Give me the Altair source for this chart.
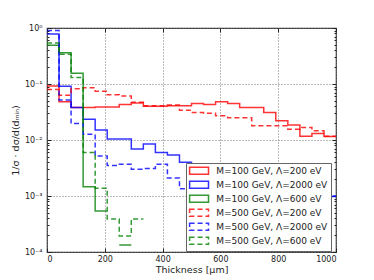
import altair as alt
import numpy as np
import pandas as pd

# ---- data ----
edges = list(np.linspace(0, 1000, 25))  # 24 bins of ~41.7 µm

series_names = [
    "M=100 GeV, Λ=200 eV",
    "M=100 GeV, Λ=2000 eV",
    "M=100 GeV, Λ=600 eV",
    "M=500 GeV, Λ=200 eV",
    "M=500 GeV, Λ=2000 eV",
    "M=500 GeV, Λ=600 eV",
]
series_colors = ["#ff0000", "#0000ff", "#008000", "#ff0000", "#0000ff", "#008000"]

red_solid = [0.092, 0.048, 0.038, 0.038, 0.039, 0.039, 0.043, 0.046, 0.040, 0.040, 0.041, 0.041,
             0.045, 0.043, 0.048, 0.045, 0.038, 0.038, 0.031, 0.022, 0.0185, 0.0117, 0.013, 0.0115]
blue_solid = [0.78, 0.091, 0.038, 0.0234, 0.0151, 0.0104, 0.0104, 0.0069, 0.0085, 0.0060, 0.0054, 0.0040,
              0.0034, 0.0030, 0.0026, 0.0023, 0.0021, 0.0019, 0.0017, 0.0015, 0.0013, 0.0012, 0.0011, 0.00098]
green_solid = [0.49, 0.36, 0.155, 0.00147, 0.00054, 0, 0.000133, 0, 0, 0, 0, 0,
               0, 0, 0, 0, 0, 0, 0, 0, 0, 0, 0, 0]
red_dashed = [0.080, 0.063, 0.082, 0.086, 0.074, 0.064, 0.061, 0.047, 0.041, 0.041, 0.042, 0.034,
              0.031, 0.030, 0.027, 0.025, 0.025, 0.018, 0.018, 0.018, 0.0156, 0.0168, 0.0146, 0.0117]
blue_dashed = [0.90, 0.052, 0.0197, 0.0127, 0.0052, 0.0035, 0.0037, 0.0030, 0.0031, 0.0037, 0.0021, 0.00135,
               0.0013, 0.0012, 0.0012, 0.0011, 0.0011, 0.0011, 0.0010, 0.0010, 0.0010, 0.0010, 0.0010, 0.0010]
green_dashed = [0.54, 0.34, 0.13, 0.006, 0.00137, 0.00039, 0.000194, 0.00039, 0, 0, 0, 0,
                0, 0, 0, 0, 0, 0, 0, 0, 0, 0, 0, 0]

all_values = [red_solid, blue_solid, green_solid, red_dashed, blue_dashed, green_dashed]

x_major = [0, 200, 400, 600, 800, 1000]
y_major = [1e-4, 1e-3, 1e-2, 1e-1, 1.0]
y_minor = [k * 10.0 ** e for e in range(-4, 0) for k in range(2, 10)]

# ---- build step paths (break at empty bins) ----
rows = []
for s, vals in zip(series_names, all_values):
    run = 0
    prev_nonzero = False
    order = 0
    for i, v in enumerate(vals):
        if v > 0:
            if not prev_nonzero:
                run += 1
            rows.append({"series": s, "seg": f"{s}#{run}", "ord": order, "x": edges[i], "y": v})
            order += 1
            rows.append({"series": s, "seg": f"{s}#{run}", "ord": order, "x": edges[i + 1], "y": v})
            order += 1
            prev_nonzero = True
        else:
            prev_nonzero = False
df = pd.DataFrame(rows)
dummy = pd.DataFrame({"x": [500], "y": [0.01]})

W, H = 289, 224
FONT = "DejaVu Sans"

xs = alt.Scale(domain=[0, 1000], nice=False, zero=False)
ys = alt.Scale(type="log", domain=[1e-4, 1], nice=False)

y_label_expr = ("datum.value > 0.5 ? '10⁰' : datum.value > 0.05 ? '10⁻¹' : "
                "datum.value > 0.005 ? '10⁻²' : datum.value > 0.0005 ? '10⁻³' : '10⁻⁴'")

lines = alt.Chart(df).mark_line(strokeWidth=1.5, opacity=0.8, clip=True).encode(
    x=alt.X("x:Q", scale=xs, axis=alt.Axis(
        orient="bottom", values=x_major, format="d", grid=True, gridDash=[1, 2], gridColor="#777",
        gridOpacity=1, ticks=False, domain=False, labelFont=FONT, labelFontSize=8,
        labelPadding=3, labelColor="#222", title="Thickness [μm]", titleFont=FONT,
        titleFontSize=9.5, titleFontWeight="normal", titleColor="#222",
        titleX=W / 2, titleY=17, titleBaseline="middle", titleAlign="center")),
    y=alt.Y("y:Q", scale=ys, axis=alt.Axis(
        orient="left", values=y_major, grid=True, gridDash=[1, 2], gridColor="#777",
        gridOpacity=1, ticks=False, domain=False, labelFont=FONT, labelFontSize=8,
        labelPadding=5, labelColor="#222", labelExpr=y_label_expr,
        title="1/σ · dσ/d(dₘᵢₙ)", titleFont=FONT, titleFontSize=9.5,
        titleFontWeight="normal", titleColor="#222", titleAngle=270,
        titleX=-32, titleY=H / 2, titleAlign="center", titleBaseline="middle")),
    color=alt.Color("series:N", scale=alt.Scale(domain=series_names, range=series_colors),
                    legend=alt.Legend(
                        title=None, orient="none", legendX=139, legendY=135,
                        fillColor="white", strokeColor="#666", padding=3.3,
                        symbolType="M-1.2,-1H4.2V1H-1.2Z", symbolSize=49,
                        symbolStrokeWidth=1.5, symbolFillColor="white",
                        labelFont=FONT, labelFontSize=9, labelColor="#222",
                        labelOffset=18, rowPadding=1, cornerRadius=0)),
    strokeDash=alt.StrokeDash("series:N", scale=alt.Scale(
        domain=series_names, range=[[1, 0], [1, 0], [1, 0], [5, 3], [5, 3], [5, 3]]),
        legend=None),
    detail="seg:N",
    order="ord:Q",
)


def tick_layer(xaxis, yaxis):
    return alt.Chart(dummy).mark_point(opacity=0).encode(
        x=alt.X("x:Q", scale=xs, axis=xaxis),
        y=alt.Y("y:Q", scale=ys, axis=yaxis),
    )


def tick_axis(orient, offset, values, size):
    return alt.Axis(orient=orient, offset=offset, values=values, tickSize=size,
                    tickColor="#222", labels=False, domain=False, grid=False, title=None)


t1 = tick_layer(tick_axis("top", -H, x_major, 4), tick_axis("right", -W, y_major, 4))
t2 = tick_layer(tick_axis("bottom", -H, x_major, 4), tick_axis("left", -W, y_major, 4))
t3 = tick_layer(None, tick_axis("right", -W, y_minor, 2))
t4 = tick_layer(None, tick_axis("left", -W, y_minor, 2))

chart = alt.layer(lines, t1, t2, t3, t4).resolve_axis(
    x="independent", y="independent"
).properties(
    width=W, height=H,
    padding={"left": 39, "top": 20, "right": 30, "bottom": 28},
    autosize=alt.AutoSizeParams(type="none"),
).configure_view(stroke="#333", strokeWidth=1.2)

chart.save("out.html", embed_options={"renderer": "svg", "actions": False})
